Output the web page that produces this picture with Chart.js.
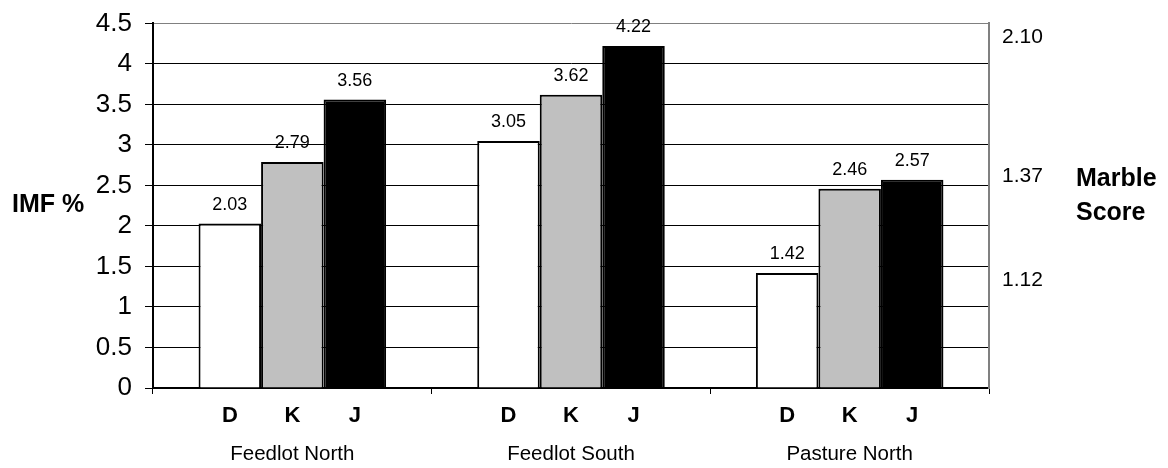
<!DOCTYPE html>
<html>
<head>
<meta charset="utf-8">
<script src="https://cdn.jsdelivr.net/npm/chart.js@4"></script>
<style>
  html, body { margin: 0; padding: 0; background: #fff; }
  #wrap { width: 1168px; height: 468px; }
</style>
</head>
<body>
<div id="wrap"><canvas id="c" width="1168" height="468"></canvas></div>
<script>
const categories = ["Feedlot North", "Feedlot South", "Pasture North"];
const seriesNames = ["D", "K", "J"];
const valuesD = [2.03, 3.05, 1.42];
const valuesK = [2.79, 3.62, 2.46];
const valuesJ = [3.56, 4.22, 2.57];
const leftTickMin = 0, leftTickMax = 4.5, leftTickStep = 0.5;
const rightTickValues = [4.33, 2.62, 1.33];
const rightTickLabels = ["2.10", "1.37", "1.12"];
const leftTitle = "IMF %";
const rightTitle = ["Marble", "Score"];

const FONT = "'Liberation Sans', Arial, Helvetica, sans-serif";
Chart.defaults.font.family = FONT;
Chart.defaults.color = "#000";

const annotations = {
  id: "annotations",
  afterDatasetsDraw(chart) {
    const ctx = chart.ctx;
    ctx.save();
    ctx.fillStyle = "#000";
    chart.data.datasets.forEach((ds, di) => {
      const meta = chart.getDatasetMeta(di);
      meta.data.forEach((bar, i) => {
        ctx.font = "18px " + FONT;
        ctx.textAlign = "center";
        ctx.textBaseline = "alphabetic";
        ctx.fillText(ds.data[i].toFixed(2), bar.x, bar.y - 14);
        ctx.font = "bold 22px " + FONT;
        ctx.fillText(ds.label, bar.x, 422);
      });
    });
    ctx.textAlign = "left";
    ctx.font = "bold 25px " + FONT;
    ctx.fillText(leftTitle, 12, 212);
    ctx.fillText(rightTitle[0], 1076, 186);
    ctx.fillText(rightTitle[1], 1076, 220);
    ctx.restore();
  }
};

new Chart(document.getElementById("c"), {
  type: "bar",
  data: {
    labels: categories,
    datasets: [
      { label: seriesNames[0], data: valuesD, backgroundColor: "#ffffff", borderColor: "#000", borderWidth: 2, yAxisID: "y" },
      { label: seriesNames[1], data: valuesK, backgroundColor: "#c0c0c0", borderColor: "#000", borderWidth: 2, yAxisID: "y" },
      { label: seriesNames[2], data: valuesJ, backgroundColor: "#000000", borderColor: "#000", borderWidth: 2, yAxisID: "y" }
    ]
  },
  options: {
    responsive: false,
    animation: false,
    layout: { padding: { top: 22, left: 0, right: 0, bottom: 0 } },
    plugins: { legend: { display: false }, tooltip: { enabled: false } },
    datasets: { bar: { barPercentage: 1.0, categoryPercentage: 0.673 } },
    scales: {
      x: {
        type: "category",
        offset: true,
        grid: { offset: true, drawOnChartArea: false, drawTicks: true, tickLength: 6, color: "#000" },
        border: { color: "#000", width: 2 },
        ticks: { font: { size: 20.5 }, padding: 48, color: "#000", maxRotation: 0 },
        afterFit(s) { s.height = 80; }
      },
      y: {
        position: "left",
        min: leftTickMin, max: leftTickMax,
        grid: {
          color: (c) => (c.tick && c.tick.value === leftTickMax) ? "#808080" : "#000",
          tickColor: "#000",
          tickLength: 8,
          lineWidth: 1
        },
        border: { color: "#000", width: 2 },
        ticks: {
          stepSize: leftTickStep, font: { size: 26, lineHeight: 0.8 }, padding: 13, color: "#000", autoSkip: false,
          callback: (v) => String(Number(Number(v).toFixed(1)))
        },
        afterFit(s) { s.width = 153; }
      },
      y2: {
        position: "right",
        min: leftTickMin, max: leftTickMax,
        grid: { drawOnChartArea: false, drawTicks: false },
        border: { color: "#808080", width: 2 },
        afterBuildTicks(axis) { axis.ticks = rightTickValues.map(v => ({ value: v })); },
        ticks: {
          autoSkip: false,
          font: { size: 21, lineHeight: 0.8 },
          padding: 13,
          color: "#000",
          callback: (v, i) => rightTickLabels[i]
        },
        afterFit(s) { s.width = 179; }
      }
    }
  },
  plugins: [annotations]
});
</script>
</body>
</html>
